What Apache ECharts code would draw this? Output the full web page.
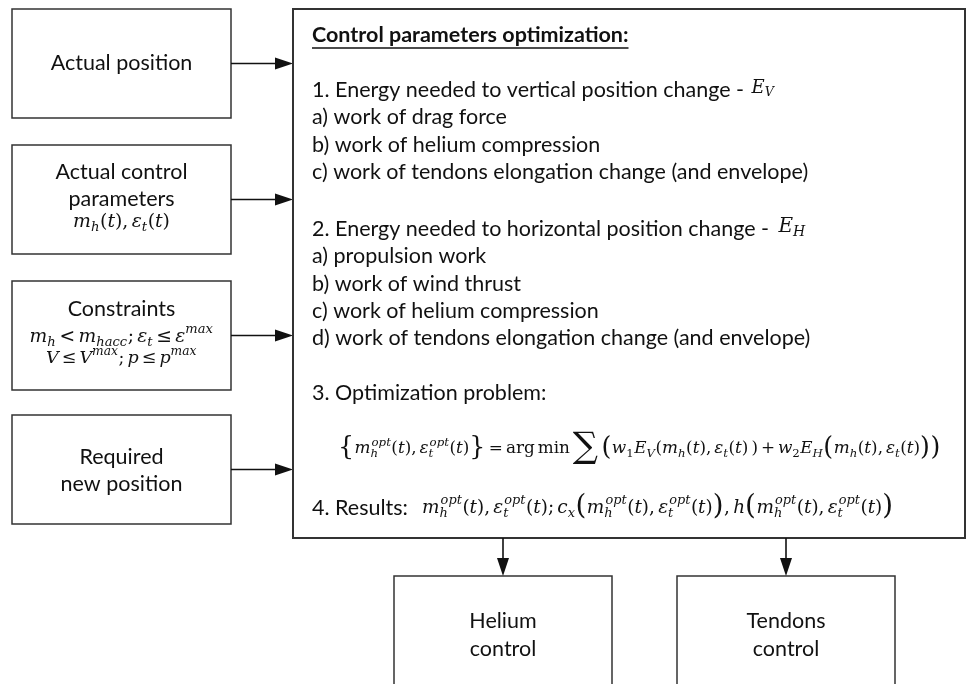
<!DOCTYPE html>
<html>
<head>
<meta charset="utf-8">
<script src="https://cdn.jsdelivr.net/npm/echarts@6/dist/echarts.min.js"></script>
<style>
  html, body { margin: 0; background: #fff; }
  #chart { width: 966px; height: 684px; }
</style>
</head>
<body>
<div id="chart"></div>
<script>
// texts of the diagram
const inputLabels = [['Actual position'], ['Actual control', 'parameters'], ['Constraints'], ['Required', 'new position']];
const inputMath = [[], ['m_{h}(t), ε_{t}(t)'], ['m_{h} < m_{hacc}; ε_{t} ≤ ε^{max}', 'V ≤ V^{max}; p ≤ p^{max}'], []];
const outputLabels = [['Helium', 'control'], ['Tendons', 'control']];
const panelTitle = 'Control parameters optimization:';
const stepVertical = '1. Energy needed to vertical position change - ';
const stepVerticalMath = 'E_{V}';
const verticalItems = ['a) work of drag force', 'b) work of helium compression', 'c) work of tendons elongation change (and envelope)'];
const stepHorizontal = '2. Energy needed to horizontal position change - ';
const stepHorizontalMath = 'E_{H}';
const horizontalItems = ['a) propulsion work', 'b) work of wind thrust', 'c) work of helium compression', 'd) work of tendons elongation change (and envelope)'];
const stepProblem = '3. Optimization problem:';
const problemMath = '§{m_{h}^{opt}(t), ε_{t}^{opt}(t)§} = @arg min@ ∑ §(w_{1}E_{V}(m_{h}(t), ε_{t}(t) ) + w_{2}E_{H}§(m_{h}(t), ε_{t}(t)§)§)';
const stepResults = '4. Results:';
const resultsMath = 'm_{h}^{opt}(t), ε_{t}^{opt}(t); c_{x}§(m_{h}^{opt}(t), ε_{t}^{opt}(t)§), h§(m_{h}^{opt}(t), ε_{t}^{opt}(t)§)';

const SANS = 'Lato';
const SERIF = '"DejaVu Serif"';
const INK = '#111';
const EDGE = '#333';

const ctx = document.createElement('canvas').getContext('2d');
function measure(text, font) {
  ctx.font = font;
  return ctx.measureText(text).width;
}

function txt(text, x, y, font, align) {
  return {
    type: 'text', x: x, y: y,
    style: {
      text: text, font: font, fill: INK,
      align: align || 'left', textAlign: align || 'left',
      verticalAlign: 'middle', textVerticalAlign: 'middle'
    }
  };
}

// tiny math markup: _{..} sub, ^{..} sup, @..@ upright, §c enlarged char
function parseMath(src) {
  const toks = [];
  let i = 0, roman = false;
  const readGroup = () => {
    const j = src.indexOf('}', i + 2);
    const g = src.slice(i + 2, j);
    i = j + 1;
    return g;
  };
  while (i < src.length) {
    const c = src[i];
    if (c === '_' && src[i + 1] === '{') {
      const sub = readGroup();
      let sup = null;
      if (src[i] === '^' && src[i + 1] === '{') sup = readGroup();
      toks.push({ sub: sub, sup: sup });
    } else if (c === '^' && src[i + 1] === '{') {
      toks.push({ sub: null, sup: readGroup() });
    } else if (c === '@') {
      roman = !roman; i++;
    } else if (c === '§') {
      toks.push({ text: src[i + 1], big: 1.5 }); i += 2;
    } else if (c === '∑') {
      toks.push({ text: c, big: 2.1 }); i++;
    } else {
      toks.push({ text: c, italic: !roman && /[A-Za-zα-ω]/.test(c) }); i++;
    }
  }
  return toks;
}

function layoutMath(src, size) {
  const toks = parseMath(src);
  const small = size * 0.7;
  const pieces = [];
  let cx = 0;
  const scriptFont = s => (/[A-Za-z]/.test(s) ? 'italic ' : '') + small + 'px ' + SERIF;
  toks.forEach(t => {
    if (t.text !== undefined) {
      const fs = t.big ? size * t.big : size;
      const font = (t.italic ? 'italic ' : '') + fs + 'px ' + SERIF;
      const narrow = t.text === ' ' ? 0.55 : 1;
      pieces.push({ text: t.text, font: font, x: cx, dy: t.big ? -size * 0.04 : 0 });
      cx += measure(t.text, font) * narrow + (t.big ? size * 0.03 : 0);
    } else {
      let w = 0;
      if (t.sub) {
        const f = scriptFont(t.sub);
        pieces.push({ text: t.sub, font: f, x: cx, dy: size * 0.28 });
        w = measure(t.sub, f);
      }
      if (t.sup) {
        const f = scriptFont(t.sup);
        const off = t.sub ? size * 0.06 : 0;
        pieces.push({ text: t.sup, font: f, x: cx + off, dy: -size * 0.38 });
        w = Math.max(w, measure(t.sup, f) + off);
      }
      cx += w + size * 0.03;
    }
  });
  return { pieces: pieces, width: cx };
}

// draw a formula; when fitW is given the size is scaled so the formula spans fitW px
function mathEls(src, x, y, size, align, fitW) {
  if (fitW) size = size * fitW / layoutMath(src, size).width;
  const lay = layoutMath(src, size);
  const x0 = align === 'center' ? x - lay.width / 2 : x;
  return lay.pieces.map(p => txt(p.text, x0 + p.x, y + p.dy, p.font, 'left'));
}

function rect(x, y, w, h, lw) {
  return { type: 'rect', shape: { x: x, y: y, width: w, height: h },
    style: { fill: '#fff', stroke: EDGE, lineWidth: lw || 1.5 } };
}

function arrow(x1, y1, x2, y2) {
  const len = Math.hypot(x2 - x1, y2 - y1);
  const ux = (x2 - x1) / len, uy = (y2 - y1) / len;
  const hl = 18, hw = 6;
  const bx = x2 - ux * hl, by = y2 - uy * hl;
  return [
    { type: 'line', shape: { x1: x1, y1: y1, x2: bx, y2: by }, style: { stroke: INK, lineWidth: 1.6 } },
    { type: 'polygon', shape: { points: [[x2, y2], [bx - uy * hw, by + ux * hw], [bx + uy * hw, by - ux * hw]] },
      style: { fill: INK } }
  ];
}

const els = [];
const sansFont = '21.5px ' + SANS;

// input boxes on the left
const inX = 12, inW = 219, inH = 109;
const inTops = [9, 145, 281, 415];
const panel = { x: 293, y: 9, w: 672, h: 529 };
const inTextY = [[63], [172, 199], [309], [457, 484]];
const inMathY = [[], [222], [337, 358]];
const inMathW = [[], [97], [184, 151]];
inputLabels.forEach((lines, k) => {
  const top = inTops[k];
  els.push(rect(inX, top, inW, inH));
  const cx = inX + inW / 2;
  lines.forEach((s, j) => els.push(txt(s, cx, inTextY[k][j], sansFont, 'center')));
  (inputMath[k] || []).forEach((m, j) => els.push(...mathEls(m, cx, inMathY[k][j], 17, 'center', inMathW[k][j])));
  const ay = top + inH / 2;
  els.push(...arrow(inX + inW, ay, panel.x, ay));
});

// main panel
els.push(rect(panel.x, panel.y, panel.w, panel.h, 2));
const tx = 312;
const titleFont = 'bold 21.5px ' + SANS;
els.push(txt(panelTitle, tx, 35, titleFont));
const tw = measure(panelTitle, titleFont);
els.push({ type: 'line', shape: { x1: tx, y1: 48, x2: tx + tw, y2: 48 }, style: { stroke: INK, lineWidth: 1.6 } });

const rowGap = 27.3;
els.push(txt(stepVertical, tx, 90, sansFont));
els.push(...mathEls(stepVerticalMath, tx + measure(stepVertical, sansFont) + 2, 88, 18));
verticalItems.forEach((s, j) => els.push(txt(s, tx, 90 + rowGap * (j + 1), sansFont)));

els.push(txt(stepHorizontal, tx, 229, sansFont));
els.push(...mathEls(stepHorizontalMath, tx + measure(stepHorizontal, sansFont) + 4, 227, 20));
horizontalItems.forEach((s, j) => els.push(txt(s, tx, 229 + rowGap * (j + 1), sansFont)));

els.push(txt(stepProblem, tx, 393, sansFont));
els.push(...mathEls(problemMath, 338, 449, 18, 'left', 603));

els.push(txt(stepResults, tx, 508, sansFont));
els.push(...mathEls(resultsMath, 422, 508, 18, 'left', 472));

// outputs below
const outXs = [394, 677], outW = 218, outTop = 576;
outputLabels.forEach((lines, k) => {
  const x = outXs[k];
  els.push(rect(x, outTop, outW, 130));
  lines.forEach((s, j) => els.push(txt(s, x + outW / 2, 621 + j * 28, sansFont, 'center')));
  els.push(...arrow(x + outW / 2, panel.y + panel.h, x + outW / 2, outTop));
});

const chart = echarts.init(document.getElementById('chart'));
chart.setOption({
  backgroundColor: '#fff',
  animation: false,
  graphic: { elements: els }
});
</script>
</body>
</html>
